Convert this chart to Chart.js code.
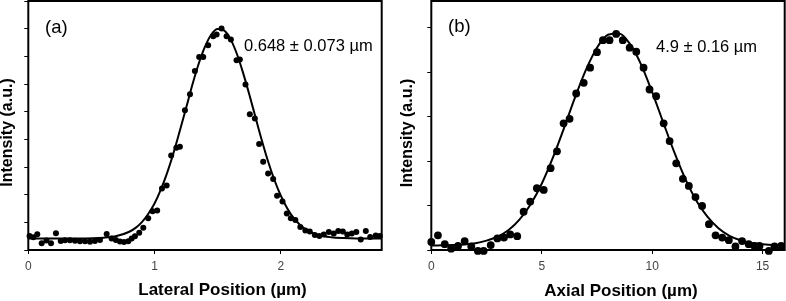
<!DOCTYPE html>
<html><head><meta charset="utf-8">
<script src="https://cdn.jsdelivr.net/npm/chart.js@4.4.0/dist/chart.umd.min.js"></script>
<style>
html,body{margin:0;padding:0;background:#fff;}
#wrap{position:relative;width:786px;height:301px;overflow:hidden;background:#fff;}
.pane{position:absolute;top:0;width:393px;height:301px;}
canvas{display:block;}
</style></head><body>
<div id="wrap">
<div class="pane" style="left:0"><canvas id="ca" width="393" height="301"></canvas></div>
<div class="pane" style="left:393px"><canvas id="cb" width="393" height="301"></canvas></div>
</div>
<script>
// ---- Panel (a): lateral profile ----
const latX = [0.010,0.040,0.071,0.106,0.144,0.180,0.219,0.257,0.291,0.330,0.370,0.409,0.449,0.489,0.528,0.568,0.621,0.660,0.694,0.726,0.758,0.792,0.819,0.845,0.879,0.911,0.950,0.985,1.021,1.059,1.096,1.132,1.173,1.201,1.241,1.281,1.320,1.354,1.386,1.425,1.465,1.492,1.531,1.571,1.605,1.650,1.676,1.721,1.755,1.795,1.829,1.861,1.900,1.940,1.971,2.014,2.048,2.080,2.116,2.155,2.195,2.230,2.270,2.306,2.341,2.381,2.420,2.456,2.492,2.527,2.563,2.599,2.634,2.674,2.709,2.753,2.785];
const latY = [0.505,0.458,0.567,0.242,0.343,0.242,0.603,0.325,0.350,0.350,0.336,0.314,0.314,0.300,0.325,0.361,0.578,0.415,0.361,0.307,0.289,0.314,0.415,0.495,0.625,0.805,1.144,1.397,1.426,2.227,2.329,3.412,3.700,3.729,5.054,5.632,6.473,6.978,6.978,7.401,7.726,7.787,8.004,7.726,7.606,6.859,6.884,5.982,4.910,4.755,3.827,3.188,2.769,2.563,1.960,1.751,1.318,1.144,1.083,0.830,0.704,0.668,0.542,0.505,0.560,0.650,0.596,0.686,0.668,0.560,0.596,0.650,0.379,0.686,0.469,0.523,0.505];
const latFitX = [0,0.2,0.4,0.6,0.7,0.8,0.85,0.9,0.95,1.0,1.05,1.1,1.15,1.2,1.25,1.3,1.35,1.4,1.45,1.5,1.55,1.6,1.65,1.7,1.75,1.8,1.85,1.9,1.95,2.0,2.05,2.1,2.15,2.2,2.3,2.4,2.5,2.6,2.8];
const latFitY = [0.42,0.42,0.42,0.447,0.505,0.66,0.80,1.01,1.30,1.68,2.18,2.79,3.50,4.30,5.13,5.97,6.73,7.35,7.79,7.99,7.94,7.64,7.12,6.43,5.64,4.80,3.97,3.20,2.53,1.97,1.52,1.17,0.92,0.74,0.54,0.46,0.43,0.42,0.42];

// ---- Panel (b): axial profile ----
const axX = [0.00,0.30,0.61,0.90,1.21,1.51,1.81,2.11,2.37,2.69,2.99,3.29,3.57,3.89,4.18,4.48,4.78,5.09,5.40,5.69,5.99,6.26,6.56,6.90,7.19,7.50,7.77,8.07,8.37,8.67,8.98,9.28,9.61,9.88,10.18,10.52,10.79,11.09,11.39,11.66,11.96,12.26,12.57,12.87,13.17,13.47,13.77,14.07,14.37,14.63,14.86,15.28,15.54,15.84];
const axY = [0.18,0.33,0.13,0.03,0.09,0.20,0.08,-0.02,-0.02,0.11,0.26,0.28,0.35,0.31,0.86,1.09,1.39,1.35,1.84,2.22,2.85,2.95,3.52,3.76,4.10,4.45,4.72,4.72,4.86,4.72,4.55,4.46,4.10,3.61,3.46,2.85,2.45,1.95,1.60,1.44,1.19,0.99,0.58,0.33,0.28,0.22,0.08,0.20,0.13,0.09,0.09,-0.02,0.08,0.09];
const axFitX = [0,0.5,1,1.5,2,2.5,3,3.5,4,4.5,5,5.5,6,6.5,7,7.5,8,8.5,9,9.5,10,10.5,11,11.5,12,12.5,13,13.5,14,14.5,15,15.5,16];
const axFitY = [0.10,0.105,0.11,0.125,0.15,0.21,0.30,0.45,0.69,1.03,1.49,2.07,2.73,3.42,4.05,4.55,4.84,4.87,4.63,4.17,3.55,2.87,2.20,1.60,1.11,0.75,0.49,0.32,0.22,0.16,0.13,0.11,0.105];

// ---- Texts ----
const panelLabels = ["(a)", "(b)"];
const fitLabels = ["0.648 \u00B1 0.073 \u00B5m", "4.9 \u00B1 0.16 \u00B5m"];
const xTitles = ["Lateral Position (\u00B5m)", "Axial Position (\u00B5m)"];
const yTitle = "Intensity (a.u.)";

const FAM = '"Liberation Sans", Arial, Helvetica, sans-serif';

function pairs(xs, ys) { return xs.map((x, i) => ({x: x, y: ys[i]})); }

function makeChart(id, o) {
  const textPlugin = {
    id: 'panelText',
    afterDraw(chart) {
      const ctx = chart.ctx, a = chart.chartArea;
      ctx.save();
      // frame
      ctx.strokeStyle = '#000';
      ctx.lineWidth = 2;
      ctx.strokeRect(a.left, a.top, a.right - a.left, a.bottom - a.top);
      ctx.fillStyle = '#000';
      // panel label
      ctx.font = o.labelSize + 'px ' + FAM;
      ctx.textAlign = 'left';
      ctx.textBaseline = 'alphabetic';
      ctx.fillText(o.label, o.labelPos[0], o.labelPos[1]);
      // fit annotation
      ctx.font = '16.5px ' + FAM;
      ctx.fillText(o.fit, o.fitPos[0], o.fitPos[1]);
      // x title
      ctx.font = 'bold 17px ' + FAM;
      ctx.textAlign = 'center';
      ctx.fillText(chart.options.scales.x.title.text, o.xTitlePos[0], o.xTitlePos[1]);
      // y title
      ctx.font = 'bold 16px ' + FAM;
      ctx.translate(o.yTitlePos[0], o.yTitlePos[1]);
      ctx.rotate(-Math.PI / 2);
      ctx.textBaseline = 'middle';
      ctx.fillText(chart.options.scales.y.title.text, 0, 0);
      ctx.restore();
    }
  };
  return new Chart(document.getElementById(id), {
    type: 'scatter',
    data: {
      datasets: [
        { data: pairs(o.px, o.py), showLine: false, pointRadius: o.r, pointHoverRadius: o.r,
          pointBackgroundColor: '#000', pointBorderWidth: 0, pointBorderColor: '#000', clip: false },
        { data: pairs(o.fx, o.fy), showLine: true, borderColor: '#000', borderWidth: 2,
          pointRadius: 0, pointHoverRadius: 0, cubicInterpolationMode: 'monotone', fill: false }
      ]
    },
    options: {
      responsive: false, animation: false, devicePixelRatio: 1,
      events: [],
      layout: { autoPadding: false, padding: { left: 0, right: o.padRight, top: 1, bottom: 0 } },
      plugins: { legend: { display: false }, tooltip: { enabled: false } },
      scales: {
        x: {
          type: 'linear', min: 0, max: o.xmax,
          ticks: { stepSize: o.xstep, includeBounds: false, autoSkip: false, maxRotation: 0,
                   color: '#444', padding: 5, font: { size: 12, family: FAM } },
          grid: { drawOnChartArea: false, color: '#000', lineWidth: 1, tickLength: 4 },
          border: { display: false },
          title: { display: false, text: o.xTitle },
          afterFit: s => { s.height = 51; }
        },
        y: {
          type: 'linear', min: 0, max: o.ymax,
          ticks: { stepSize: 1, includeBounds: false, display: false },
          grid: { drawOnChartArea: false, color: '#000', lineWidth: 1, tickLength: 4 },
          border: { display: false },
          title: { display: false, text: yTitle },
          afterFit: s => { s.width = o.yw; }
        }
      }
    },
    plugins: [textPlugin]
  });
}

makeChart('ca', {
  px: latX, py: latY, fx: latFitX, fy: latFitY, r: 3,
  xmax: 2.8, xstep: 1, ymax: 9, yw: 28.3, padRight: 11.3,
  label: panelLabels[0], labelSize: 18.5, labelPos: [45, 32.5],
  fit: fitLabels[0], fitPos: [244, 51],
  xTitle: xTitles[0], xTitlePos: [222.5, 295],
  yTitlePos: [8, 132.5]
});
makeChart('cb', {
  px: axX, py: axY, fx: axFitX, fy: axFitY, r: 3.9,
  xmax: 16, xstep: 5, ymax: 5.6, yw: 38.3, padRight: 1.3,
  label: panelLabels[1], labelSize: 18.5, labelPos: [55, 32],
  fit: fitLabels[1], fitPos: [263, 52.3],
  xTitle: xTitles[1], xTitlePos: [228, 296],
  yTitlePos: [15, 133]
});
</script>
</body></html>
